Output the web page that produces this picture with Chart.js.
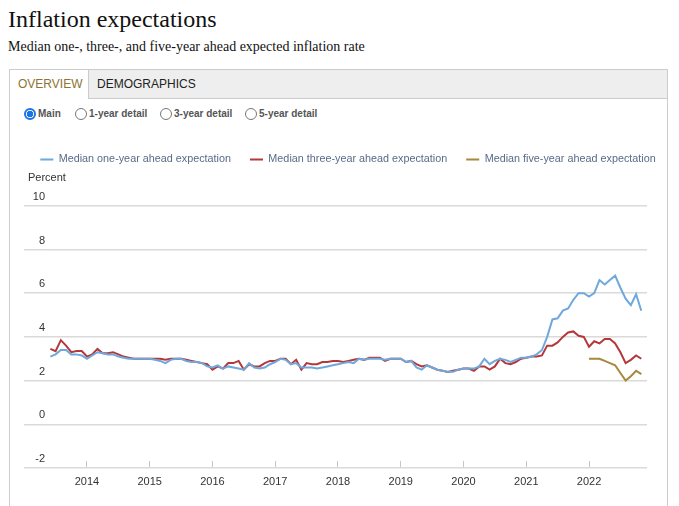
<!DOCTYPE html>
<html><head><meta charset="utf-8">
<script src="https://cdn.jsdelivr.net/npm/chart.js@4.4.0/dist/chart.umd.min.js"></script>
<style>
html,body{margin:0;padding:0;background:#fff;width:679px;height:506px;overflow:hidden;}
body{position:relative;font-family:"Liberation Sans",Arial,sans-serif;}
#title{position:absolute;left:8px;top:4px;margin:0;font:normal 24px/30px "Liberation Serif",serif;color:#111;white-space:nowrap;}
#subtitle{position:absolute;left:8px;top:38px;margin:0;font:normal 14px/18px "Liberation Serif",serif;color:#111;white-space:nowrap;}
#panel{position:absolute;left:9px;top:69px;width:659px;height:460px;border:1px solid #ccc;border-bottom:none;box-sizing:border-box;}
#strip{position:absolute;left:0;top:0;right:0;height:28px;background:#eee;border-bottom:1px solid #ccc;}
#tabActive{position:absolute;left:0;top:0;width:79px;height:29px;background:#fff;border-right:1px solid #ccc;box-sizing:border-box;}
.tab{position:absolute;top:7px;font-size:12px;line-height:14px;white-space:nowrap;}
#t1{left:8px;color:#8c7432;}
#t2{left:87px;color:#222;}
.radio{position:absolute;top:108px;width:12px;height:12px;border-radius:50%;box-sizing:border-box;border:1px solid #777;background:#fff;}
.radio.on{border:2px solid #1a73e8;background:radial-gradient(circle,#1a73e8 0,#1a73e8 3px,#fff 3.2px);}
.rl{position:absolute;top:108px;font-size:10px;line-height:12px;font-weight:bold;color:#555;white-space:nowrap;}
#percent{position:absolute;left:28px;top:170px;font-size:11px;line-height:14px;color:#333;}
#wrap{position:absolute;left:10px;top:130px;width:657px;height:376px;}
</style></head>
<body>
<h1 id="title">Inflation expectations</h1>
<p id="subtitle">Median one-, three-, and five-year ahead expected inflation rate</p>
<div id="panel">
  <div id="strip"></div>
  <div id="tabActive"></div>
  <div class="tab" id="t1">OVERVIEW</div>
  <div class="tab" id="t2">DEMOGRAPHICS</div>
</div>
<span class="radio on" style="left:24px"></span><span class="rl" style="left:38px">Main</span>
<span class="radio" style="left:75px"></span><span class="rl" style="left:89px">1-year detail</span>
<span class="radio" style="left:160px"></span><span class="rl" style="left:174px">3-year detail</span>
<span class="radio" style="left:245px"></span><span class="rl" style="left:259px">5-year detail</span>
<div id="wrap"><canvas id="c"></canvas></div>
<div id="percent">Percent</div>
<script>
// ---- data ----
const startYear = 2013, startMonth = 6, monthCount = 114;   // Jun 2013 .. Nov 2022
const seriesNames = ["Median one-year ahead expectation", "Median three-year ahead expectation", "Median five-year ahead expectation"];
const oneYear = [
  3.1, 3.2, 3.4, 3.4, 3.2, 3.2, 3.15,
  3.0, 3.15, 3.3, 3.25, 3.2, 3.2, 3.1, 3.05, 3.0, 3.0, 3.0, 3.0,
  3.0, 2.95, 2.9, 2.8, 2.95, 3.0, 3.0, 2.9, 2.85, 2.85, 2.8, 2.65,
  2.6, 2.7, 2.55, 2.65, 2.6, 2.55, 2.5, 2.8, 2.6, 2.55, 2.6, 2.75,
  2.85, 3.0, 2.95, 2.75, 2.8, 2.6, 2.6, 2.6, 2.55, 2.6, 2.65, 2.7,
  2.75, 2.8, 2.85, 2.8, 3.0, 2.95, 3.0, 3.0, 3.0, 2.95, 3.0, 3.0,
  3.0, 2.85, 2.9, 2.6, 2.5, 2.7, 2.6, 2.5, 2.45, 2.4, 2.4, 2.5,
  2.55, 2.55, 2.55, 2.65, 3.0, 2.75, 2.9, 3.0, 2.95, 2.85, 2.95, 3.05,
  3.05, 3.1, 3.2, 3.4, 4.0, 4.8, 4.85, 5.2, 5.3, 5.7, 6.0, 6.0,
  5.85, 6.0, 6.6, 6.4, 6.6, 6.8, 6.25, 5.75, 5.45, 5.95, 5.2
];
const threeYear = [
  3.45, 3.35, 3.85, 3.6, 3.3, 3.35, 3.35,
  3.1, 3.2, 3.45, 3.25, 3.25, 3.3, 3.2, 3.1, 3.05, 3.0, 3.0, 3.0,
  3.0, 3.0, 3.0, 2.95, 3.0, 3.0, 3.0, 2.95, 2.9, 2.85, 2.8, 2.75,
  2.5, 2.65, 2.55, 2.8, 2.8, 2.9, 2.5, 2.75, 2.65, 2.65, 2.8, 2.9,
  2.9, 3.0, 3.0, 2.75, 2.95, 2.5, 2.8, 2.75, 2.75, 2.85, 2.85, 2.9,
  2.9, 2.85, 2.9, 2.95, 3.0, 2.95, 3.05, 3.05, 3.05, 2.9, 3.0, 3.0,
  3.0, 2.85, 2.9, 2.75, 2.65, 2.7, 2.6, 2.5, 2.45, 2.4, 2.45, 2.5,
  2.55, 2.55, 2.45, 2.65, 2.65, 2.5, 2.65, 3.0, 2.8, 2.75, 2.85, 3.0,
  3.05, 3.1, 3.1, 3.15, 3.6, 3.6, 3.75, 4.0, 4.2, 4.25, 4.05, 4.0,
  3.55, 3.8, 3.7, 3.9, 3.9, 3.7, 3.3, 2.8, 2.95, 3.15, 3.0
];
const fiveYearStart = [2022, 1];
const fiveYear = [3.0, 3.0, 3.0, 2.9, 2.8, 2.7, 2.35, 2.0, 2.2, 2.45, 2.3];
const yearTicks = [2014, 2015, 2016, 2017, 2018, 2019, 2020, 2021, 2022];
const yMin = -2, yMax = 10, yStep = 2;
const xMin = 2013.347, xMax = 2022.924;

// ---- build ----
function monthPos(y, m) { return y + (m - 1) / 12; }
function toPoints(vals, y0, m0) {
  return vals.map((v, i) => {
    const k = m0 - 1 + i;
    return { x: monthPos(y0 + Math.floor(k / 12), (k % 12) + 1), y: v };
  });
}
const colors = ["#6fa8dc", "#b4383a", "#a8883a"];

const layoutTweak = {
  id: 'layoutTweak',
  afterInit(chart) {
    const lg = chart.legend;
    if (lg && !lg._patched) {
      const fit = lg.fit.bind(lg);
      lg.fit = function () { this.maxWidth = 700; fit(); this.height += 31; };
      lg._patched = true;
    }
  },
  afterLayout(chart) {
    const lg = chart.legend;
    lg.left = 0; lg.right = 676; lg.width = 676;
  }
};

const ds = [oneYear, threeYear].map((arr, i) => ({
  label: seriesNames[i], data: toPoints(arr, startYear, startMonth),
  borderColor: colors[i], backgroundColor: colors[i], borderWidth: 2, pointRadius: 0, tension: 0
}));
ds.push({ label: seriesNames[2], data: toPoints(fiveYear, fiveYearStart[0], fiveYearStart[1]),
  borderColor: colors[2], backgroundColor: colors[2], borderWidth: 2, pointRadius: 0, tension: 0 });

new Chart(document.getElementById('c'), {
  type: 'line',
  data: { datasets: ds },
  plugins: [layoutTweak],
  options: {
    responsive: true, maintainAspectRatio: false, animation: false, devicePixelRatio: 1,
    layout: { padding: { left: 14, right: 20, top: 5, bottom: 0 } },
    plugins: {
      tooltip: { enabled: false },
      legend: { position: 'top', labels: { usePointStyle: true, pointStyle: 'line', pointStyleWidth: 13, boxWidth: 13, boxHeight: 11,
        padding: 19, color: '#5a6a88', font: { size: 10.8, family: "'Liberation Sans', Arial, sans-serif" } } }
    },
    scales: {
      x: {
        type: 'linear', min: xMin, max: xMax,
        afterBuildTicks(s) { s.ticks = yearTicks.map(v => ({ value: v })); },
        afterFit(s) { s.height = 38; },
        border: { display: false },
        grid: { display: true, drawOnChartArea: false, drawTicks: true, tickLength: -7, color: '#c8c8c8', lineWidth: 1 },
        ticks: { padding: 14, maxRotation: 0, autoSkip: false, color: '#333', font: { size: 11, family: "'Liberation Sans', Arial, sans-serif" },
          callback: v => String(v) }
      },
      y: {
        min: yMin, max: yMax,
        afterFit(s) { s.width = 22; },
        border: { display: false },
        grid: { color: '#dadada', lineWidth: 1.5, drawTicks: true, tickLength: 22 },
        ticks: { stepSize: yStep, padding: -21, labelOffset: -9, color: '#333', font: { size: 11, family: "'Liberation Sans', Arial, sans-serif" } }
      }
    }
  }
});
</script>
</body></html>
